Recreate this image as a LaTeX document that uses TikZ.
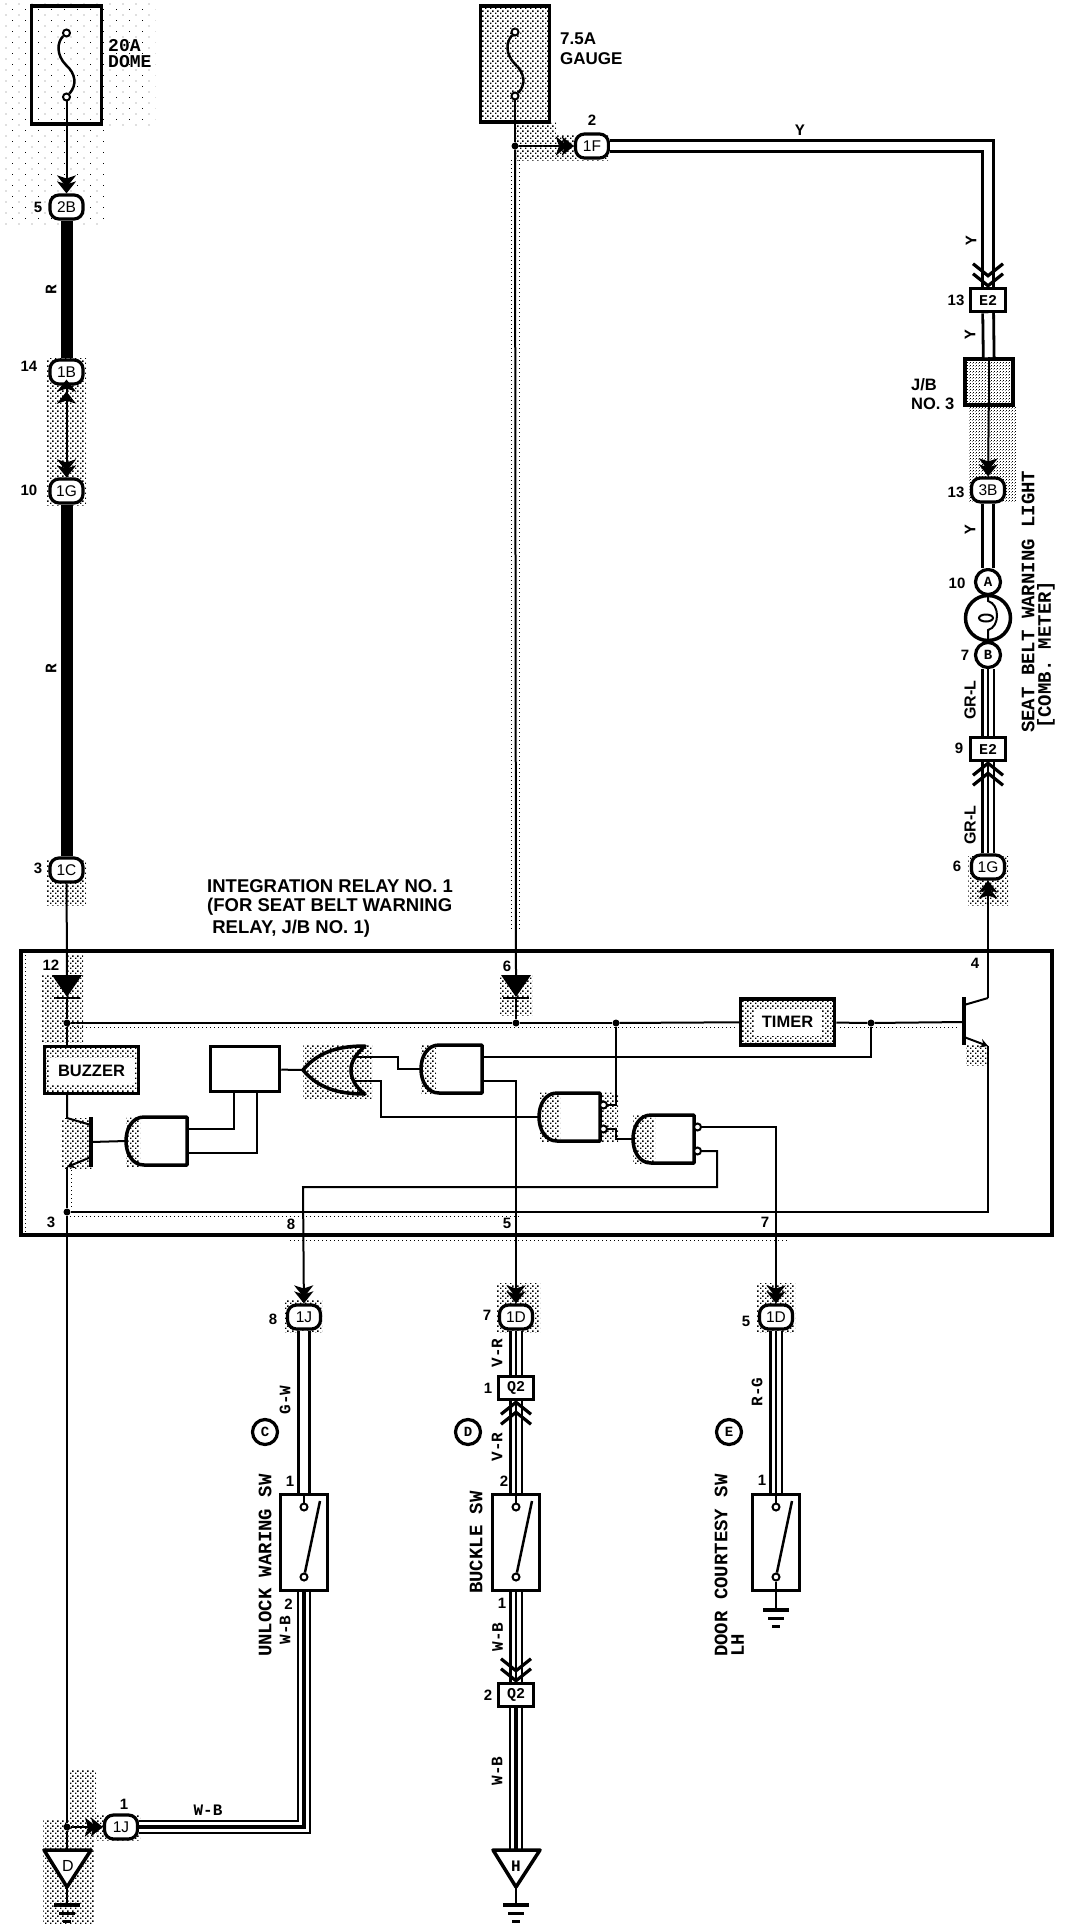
\documentclass[tikz,border=0pt]{standalone}
\usepackage{fontspec}
\setmainfont{Liberation Sans}
\newfontfamily\wiref{Liberation Mono}
\usetikzlibrary{arrows.meta,patterns,calc}
\pgfdeclarepatternformonly{stipple}{\pgfqpoint{0pt}{0pt}}{\pgfqpoint{5pt}{5pt}}{\pgfqpoint{5pt}{5pt}}{
\pgfpathrectangle{\pgfqpoint{0pt}{0pt}}{\pgfqpoint{1.7pt}{1.7pt}}
\pgfpathrectangle{\pgfqpoint{2.5pt}{2.5pt}}{\pgfqpoint{1.7pt}{1.7pt}}
\pgfusepath{fill}}
\pgfdeclarepatternformonly{finestipple}{\pgfqpoint{0pt}{0pt}}{\pgfqpoint{3pt}{3pt}}{\pgfqpoint{3pt}{3pt}}{
\pgfpathrectangle{\pgfqpoint{0pt}{0pt}}{\pgfqpoint{0.9pt}{0.9pt}}
\pgfpathrectangle{\pgfqpoint{1.5pt}{1.5pt}}{\pgfqpoint{0.9pt}{0.9pt}}
\pgfusepath{fill}}
\pgfdeclarepatternformonly{sparse}{\pgfqpoint{0pt}{0pt}}{\pgfqpoint{13pt}{11pt}}{\pgfqpoint{13pt}{11pt}}{
\pgfpathrectangle{\pgfqpoint{0pt}{0pt}}{\pgfqpoint{1pt}{1pt}}
\pgfpathrectangle{\pgfqpoint{7pt}{6pt}}{\pgfqpoint{1pt}{1pt}}
\pgfusepath{fill}}
\tikzstyle{wire}=[line width=2pt]
\tikzstyle{heavy}=[line width=12pt]
\tikzstyle{wiretwo}=[line width=2.8pt,double=white,double distance=8pt]
\tikzstyle{wirethree}=[line width=2.2pt,double=white,double distance=9pt,postaction={draw,line width=2pt,double=none}]
\tikzstyle{wirewb}=[line width=2pt,double=white,double distance=10pt,postaction={draw,line width=3.5pt,double=none}]
\tikzstyle{inarrow}=[-{Stealth[length=12pt,width=19pt,inset=3pt,sep=-6pt]Stealth[length=12pt,width=19pt,inset=3pt]}]
\tikzstyle{inback}=[{Stealth[length=12pt,width=19pt,inset=3pt,sep=-6pt]Stealth[length=12pt,width=19pt,inset=3pt]}-]
\tikzstyle{smallarrow}=[-{Stealth[length=8pt,width=9pt,inset=3pt]}]
\tikzstyle{shadearea}=[pattern=stipple]
\tikzstyle{finearea}=[pattern=finestipple]
\tikzstyle{sparsearea}=[pattern=sparse]
\tikzstyle{fringe}=[line width=1pt,dash pattern=on 1pt off 3pt]
\tikzstyle{conn}=[draw,fill=white,rectangle,rounded corners=9pt,line width=3.2pt,minimum width=33pt,minimum height=24pt,inner sep=0pt,font=\fontsize{15.5}{15.5}\selectfont]
\tikzstyle{pin}=[draw,fill=white,circle,line width=3.2pt,minimum size=25pt,inner sep=0pt,font=\wiref\bfseries\fontsize{14}{14}\selectfont]
\tikzstyle{tagbox}=[draw,fill=white,rectangle,line width=3.5pt,minimum width=35pt,minimum height=23pt,inner sep=0pt,font=\wiref\bfseries\fontsize{15}{15}\selectfont]
\tikzstyle{unitbox}=[draw,rectangle,line width=3.5pt,inner sep=0pt]
\tikzstyle{unittext}=[fill=white,inner sep=0pt,minimum height=27pt,font=\bfseries\fontsize{16.5}{16.5}\selectfont]
\tikzstyle{swbox}=[draw,rectangle,line width=3pt,minimum width=47pt,minimum height=96pt,inner sep=0pt]
\tikzstyle{term}=[draw,fill=white,circle,line width=2pt,minimum size=7pt,inner sep=0pt]
\tikzstyle{dot}=[fill,circle,minimum size=7pt,inner sep=0pt]
\tikzstyle{bubble}=[draw,fill=white,circle,line width=2pt,minimum size=7pt,inner sep=0pt]
\tikzstyle{gateline}=[line width=3.5pt,line join=round]
\tikzstyle{chevline}=[line width=3.2pt,miter limit=4]
\tikzstyle{num}=[inner sep=0pt,font=\bfseries\fontsize{15}{15}\selectfont]
\tikzstyle{plaintext}=[inner sep=0pt,anchor=west,font=\bfseries\fontsize{17}{17}\selectfont]
\tikzstyle{relaytext}=[inner sep=0pt,anchor=west,font=\bfseries\fontsize{18.5}{18.5}\selectfont]
\tikzstyle{wirelabel}=[inner sep=0pt,font=\wiref\bfseries\fontsize{16}{16}\selectfont]
\tikzstyle{partname}=[inner sep=0pt,anchor=west,rotate=90,font=\wiref\bfseries\fontsize{19}{19}\selectfont]
\newcommand{\chevron}[2]{\draw[chevline,shift={(#1)},rotate=#2] (-15,-13)--(0,-1)--(15,-13) (-15,-23)--(0,-11)--(15,-23);}
\newcommand{\diode}[3]{\begin{scope}[shift={(#2,#3)}]
\fill (-15,0)--(15,0)--(0,22)--cycle;
\draw[line width=2.5pt] (-13,23)--(13,23);
\coordinate (#1in) at (0,0);
\coordinate (#1out) at (0,23);
\end{scope}}
\newcommand{\andgate}[3]{\begin{scope}[shift={(#2,#3)}]
\draw[gateline] (61,0)--(18,0) .. controls (6,0) and (0,12) .. (0,24) .. controls (0,36) and (6,48) .. (18,48)--(61,48)--cycle;
\coordinate (#1in) at (0,24);
\coordinate (#1a) at (61,12);
\coordinate (#1b) at (61,36);
\end{scope}}
\newcommand{\nandgate}[3]{\andgate{#1}{#2}{#3}
\node[bubble] (#1p) at ($(#2,#3)+(64.5,12)$) {};
\node[bubble] (#1q) at ($(#2,#3)+(64.5,36)$) {};}
\newcommand{\earth}[1]{\draw[line width=3.5pt,shift={(#1)}] (-13,0)--(13,0) (-8,8.5)--(8,8.5) (-4,16.5)--(4,16.5);}
\begin{document}
\begin{tikzpicture}[x=1pt,y=-1pt]
\useasboundingbox (0,0) rectangle (1072,1924);
\fill[sparsearea] (0,0) rectangle (155,130);
\fill[sparsearea] (0,130) rectangle (105,225);
\fill[shadearea] (515,123) rectangle (556,135);
\fill[shadearea] (515,135) rectangle (608,160);
\fill[shadearea] (47,358) rectangle (86,505);
\fill[finearea] (968,406) rectangle (1016,502);
\fill[shadearea] (47,860) rectangle (86,905);
\fill[shadearea] (968,856) rectangle (1008,905);
\fill[shadearea] (42,975) rectangle (83,1042);
\fill[shadearea] (67,955) rectangle (83,975);
\fill[shadearea] (500,975) rectangle (532,1015);
\fill[shadearea] (62,1118) rectangle (92,1168);
\fill[shadearea] (126,1117) rectangle (140,1166);
\fill[shadearea] (303,1045) rectangle (372,1098);
\fill[shadearea] (421,1045) rectangle (436,1093);
\fill[shadearea] (539,1092) rectangle (560,1141);
\fill[shadearea] (600,1092) rectangle (618,1141);
\fill[shadearea] (633,1115) rectangle (655,1163);
\fill[shadearea] (966,1045) rectangle (988,1065);
\fill[shadearea] (285,1300) rectangle (322,1332);
\fill[shadearea] (497,1283) rectangle (540,1332);
\fill[shadearea] (757,1283) rectangle (795,1332);
\fill[shadearea] (43,1820) rectangle (94,1924);
\fill[shadearea] (70,1770) rectangle (96,1830);
\fill[shadearea] (96,1815) rectangle (140,1840);
\draw[fringe] (511,160) -- (511,930);
\draw[fringe] (519,160) -- (519,930);
\draw[fringe] (70,1027) -- (735,1027);
\draw[fringe] (840,1027) -- (960,1027);
\draw[fringe] (70,1216) -- (520,1216);
\draw[fringe] (25,955) -- (25,1232);
\draw[fringe] (71,1170) -- (71,1210);
\draw[fringe] (290,1240) -- (790,1240);

\node[unitbox,minimum width=70pt,minimum height=118pt] (dome) at (66.5,65) {};
\node[unitbox,shadearea,minimum width=69pt,minimum height=116pt] (gauge) at (515,64) {};
\node[term] (domea) at (66.5,33) {};
\node[term] (domeb) at (66.5,97) {};
\node[term] (gaugea) at (515,32) {};
\node[term] (gaugeb) at (515,96) {};
\draw[wire,line width=2.5pt] (domea) .. controls (57,42) and (56,55) .. (66,65) .. controls (76,74) and (77,85) .. (domeb);
\draw[wire,line width=2.5pt] (gaugea) .. controls (506,42) and (505,54) .. (515,64) .. controls (525,73) and (526,85) .. (gaugeb);
\node[wirelabel,anchor=west,font=\wiref\bfseries\fontsize{18}{18}\selectfont] (lbldomea) at (108,46) {20A};
\node[wirelabel,anchor=west,font=\wiref\bfseries\fontsize{18}{18}\selectfont] (lbldomeb) at (108,62) {DOME};
\node[plaintext] (lblgaugea) at (560,39) {7.5A};
\node[plaintext] (lblgaugeb) at (560,59) {GAUGE};

\node[conn] (c2b) at (66.5,207) {2B};
\node[conn] (c1b) at (66.5,372) {1B};
\node[conn] (c1gl) at (66.5,491) {1G};
\node[conn] (c1c) at (66.5,870) {1C};
\node[conn] (c1f) at (592,146) {1F};
\node[dot] (jgauge) at (515,146) {};
\draw[wire,inarrow] (domeb) -- (c2b);
\draw[heavy] (c2b) -- (c1b);
\draw[wire,inback] (c1b) -- (c1gl);
\draw[wire,inarrow] (c1b) -- (c1gl);
\draw[heavy] (c1gl) -- (c1c);
\draw[wire,inarrow] (jgauge) -- (c1f);
\node[num] (n5a) at (38,207) {5};
\node[num] (n14) at (29,366) {14};
\node[num] (n10a) at (29,490) {10};
\node[num] (n3a) at (38,868) {3};
\node[num] (n2a) at (592,120) {2};
\node[wirelabel,rotate=90] (lblra) at (51,290) {R};
\node[wirelabel,rotate=90] (lblrb) at (51,669) {R};

\node[tagbox] (e2a) at (988,300) {E2};
\node[unitbox,finearea,minimum width=48pt,minimum height=46pt] (jb) at (989,382) {};
\node[conn] (c3b) at (988,490) {3B};
\node[pin] (pina) at (988,582) {A};
\node[draw,circle,line width=3.5pt,minimum size=45pt,inner sep=0pt] (lamp) at (988,618) {};
\node[pin] (pinb) at (988,655) {B};
\node[tagbox] (e2b) at (988,749) {E2};
\node[conn] (c1gr) at (988,867) {1G};
\draw[wiretwo] (c1f.east) -| (e2a.north);
\chevron{e2a.north}{0}
\draw[wiretwo] (e2a) -- (jb);
\draw[wire] (jb.north) -- (jb.south);
\draw[wire,inarrow] (jb) -- (c3b);
\draw[wiretwo] (c3b) -- (pina);
\draw[wire] (pina.south) -- (988,601) .. controls (1000,604) and (1000,627) .. (988,630) -- (pinb.north);
\draw[wire] (986,618) ellipse (7 and 3.5);
\draw[wirethree] (pinb) -- (e2b);
\draw[wirethree] (e2b) -- (c1gr);
\chevron{e2b.south}{180}
\node[num] (n13a) at (956,300) {13};
\node[num] (n13b) at (956,492) {13};
\node[num] (n10b) at (957,583) {10};
\node[num] (n7a) at (965,655) {7};
\node[num] (n9) at (959,748) {9};
\node[num] (n6a) at (957,866) {6};
\node[num,align=left,anchor=west,font=\bfseries\fontsize{16.5}{16.5}\selectfont] (lbljb) at (911,394) {J/B\\[3pt]NO. 3};
\node[wirelabel] (lblya) at (800,130) {Y};
\node[wirelabel,rotate=90] (lblyb) at (971,241) {Y};
\node[wirelabel,rotate=90] (lblyc) at (970,335) {Y};
\node[wirelabel,rotate=90] (lblyd) at (970,530) {Y};
\node[num,rotate=90,font=\bfseries\fontsize{16}{16}\selectfont] (lblgra) at (970,700) {GR-L};
\node[num,rotate=90,font=\bfseries\fontsize{16}{16}\selectfont] (lblgrb) at (970,825) {GR-L};
\node[partname] (lblseat) at (1028,733) {SEAT BELT WARNING LIGHT};
\node[partname] (lblcomb) at (1046,729) {[COMB. METER]};

\node[relaytext] (lblrelaya) at (207,886) {INTEGRATION RELAY NO. 1};
\node[relaytext] (lblrelayb) at (207,907) {(FOR SEAT BELT WARNING};
\node[relaytext] (lblrelayc) at (207,929) {\ RELAY, J/B NO. 1)};
\node[draw,line width=3.5pt,minimum width=1031pt,minimum height=284pt,inner sep=0pt] (relay) at (536.5,1093) {};
\diode{dtwelve}{67}{975}
\diode{dsix}{516}{975}
\node[dot] (jtwelve) at (67,1023) {};
\node[dot] (jsix) at (516,1023) {};
\node[dot] (jand) at (616,1023) {};
\node[dot] (jtimer) at (871,1023) {};
\node[dot] (jthree) at (67,1212) {};
\node[unitbox,shadearea,minimum width=94pt,minimum height=47pt] (buzzer) at (91.5,1070) {};
\node[unittext,minimum width=86pt] (buzzertext) at (91.5,1071) {BUZZER};
\node[unitbox,fill=white,minimum width=69pt,minimum height=45pt] (blank) at (245,1069) {};
\node[unitbox,shadearea,minimum width=94pt,minimum height=46pt] (timer) at (787.5,1022) {};
\node[unittext,minimum width=68pt] (timertext) at (787.5,1022) {TIMER};
\andgate{andone}{126}{1117}
\andgate{andtwo}{421}{1045}
\nandgate{andthree}{539}{1093}
\nandgate{andfour}{633}{1115}
\draw[gateline] (303,1070) .. controls (318,1052) and (338,1046) .. (365,1046) .. controls (355,1055) and (351,1062) .. (351,1070) .. controls (351,1078) and (355,1087) .. (365,1094) .. controls (338,1094) and (318,1088) .. cycle;
\coordinate (orout) at (303,1070);
\coordinate (ora) at (354,1057);
\coordinate (orb) at (354,1081);
\coordinate (bup) at (67,1095);
\coordinate (bdown) at (67,1118);
\coordinate (qonec) at (91,1125);
\coordinate (qonee) at (91,1157);
\coordinate (qonetop) at (91,1117);
\coordinate (qonebot) at (91,1167);
\coordinate (qoneb) at (91,1142);
\coordinate (qoneout) at (67,1167);
\coordinate (blanka) at (234,1091);
\coordinate (blankb) at (257,1091);
\coordinate (bendone) at (398,1063);
\coordinate (bendtwo) at (381,1100);
\coordinate (bendthree) at (616,1133);
\coordinate (bendfour) at (717,1187);
\coordinate (bendfive) at (303,1187);
\coordinate (qtwotop) at (964,997);
\coordinate (qtwobot) at (964,1045);
\coordinate (qtwob) at (964,1022);
\coordinate (qtwoc) at (964,1005);
\coordinate (qtwoe) at (964,1037);
\coordinate (qtwocout) at (988,998);
\coordinate (qtwoeout) at (988,1046);

\draw[wire] (gaugeb) -- (jgauge);
\draw[wire] (jgauge) -- (dsixin);
\draw[wire] (dsixout) -- (jsix);
\draw[wire] (c1c) -- (dtwelvein);
\draw[wire] (dtwelveout) -- (jtwelve);
\draw[wire] (jtwelve) -- (jsix);
\draw[wire] (jsix) -- (jand);
\draw[wire] (jand) -- (timer);
\draw[wire] (timer) -- (jtimer);
\draw[wire] (jtimer) -- (qtwob);
\draw[wire] (jtwelve) -- (buzzer.north -| jtwelve);
\draw[wire] (bup) -- (bdown) -- (qonec);
\draw[line width=4pt] (qonetop) -- (qonebot);
\draw[wire] (qoneb) -- (andonein);
\draw[wire,smallarrow] (qonee) -- (qoneout);
\draw[wire] (qoneout) -- (jthree);
\draw[wire] (andonea) -| (blanka);
\draw[wire] (andoneb) -| (blankb);
\draw[wire] (blank) -- (orout);
\draw[wire] (ora) -| (bendone) |- (andtwoin);
\draw[wire] (orb) -| (bendtwo) |- (andthreein);
\draw[wire] (andtwoa) -| (jtimer);
\draw[wire] (jand) |- (andthreep);
\draw[wire] (andthreeq) -| (bendthree) |- (andfourin);
\draw[line width=4pt] (qtwotop) -- (qtwobot);
\draw[wire] (qtwoc) -- (qtwocout);
\draw[wire,smallarrow] (qtwoe) -- (qtwoeout);
\draw[wire,inarrow] (qtwocout) -- (c1gr);
\draw[wire] (qtwoeout) |- (jthree);
\node[num] (n12) at (51,965) {12};
\node[num] (n6b) at (507,966) {6};
\node[num] (n3b) at (51,1222) {3};
\node[num] (n8a) at (291,1224) {8};
\node[num] (n5b) at (507,1223) {5};
\node[num] (n7b) at (765,1222) {7};
\node[num] (n4) at (975,963) {4};

\node[conn] (c1j) at (304,1317) {1J};
\node[conn] (c1dv) at (516,1317) {1D};
\node[conn] (c1de) at (776,1317) {1D};
\node[tagbox] (q2a) at (516,1388) {Q2};
\node[tagbox] (q2b) at (516,1695) {Q2};
\node[conn] (c1jb) at (121,1827) {1J};
\node[dot] (jd) at (67,1827) {};
\node[swbox] (swc) at (304,1542) {};
\node[swbox] (swd) at (516,1542) {};
\node[swbox] (swe) at (776,1542) {};
\node[term] (swca) at (304,1507) {};
\node[term] (swcb) at (304,1577) {};
\node[term] (swda) at (516,1507) {};
\node[term] (swdb) at (516,1577) {};
\node[term] (swea) at (776,1507) {};
\node[term] (sweb) at (776,1577) {};
\coordinate (swctip) at (320,1501);
\coordinate (swdtip) at (532,1501);
\coordinate (swetip) at (792,1501);
\draw[line width=2.5pt] (swcb) -- (swctip);
\draw[line width=2.5pt] (swdb) -- (swdtip);
\draw[line width=2.5pt] (sweb) -- (swetip);
\draw[wire] (swc.north) -- (swca);
\draw[wire] (swd.north) -- (swda);
\draw[wire] (swe.north) -- (swea);
\draw[wire,inarrow] (andtwob) -| (c1dv);
\draw[wire,inarrow] (andfourp) -| (c1de);
\draw[wire,inarrow] (andfourq) -| (bendfour) -- (bendfive) -- (c1j);
\draw[wire,inarrow] (jd) -- (c1jb);
\draw[wire] (jthree) -- (jd);
\draw[wiretwo] (c1j) -- (swc);
\draw[wirethree] (c1dv) -- (q2a);
\draw[wirethree] (q2a) -- (swd);
\chevron{q2a.south}{180}
\draw[wirethree] (swd) -- (q2b);
\chevron{q2b.north}{0}
\draw[wirethree] (c1de) -- (swe);
\draw[wirewb] (swc.south) |- (c1jb.east);

\coordinate (tritopd) at (67,1850);
\coordinate (tritoph) at (516,1850);
\coordinate (gndd) at (67,1905);
\coordinate (gndh) at (516,1905);
\coordinate (gnde) at (776,1610);
\draw[wire] (jd) -- (tritopd);
\draw[wirewb] (q2b) -- (tritoph);
\draw[gateline,fill=white] (44,1850) -- (91,1850) -- (67,1887) -- cycle;
\draw[gateline,fill=white] (493,1850) -- (540,1850) -- (516,1887) -- cycle;
\node[num,font=\fontsize{16}{16}\selectfont] (lbld) at (68,1866) {D};
\node[num,font=\wiref\bfseries\fontsize{16}{16}\selectfont] (lblh) at (516,1866) {H};
\draw[wire] (67,1887) -- (gndd);
\draw[wire] (516,1887) -- (gndh);
\draw[wire] (sweb) -- (gnde);
\earth{gndd}
\earth{gndh}
\earth{gnde}

\node[pin] (tagc) at (265,1432) {C};
\node[pin] (tagd) at (468,1432) {D};
\node[pin] (tage) at (729,1432) {E};
\node[num] (n8b) at (273,1319) {8};
\node[num] (n7c) at (487,1315) {7};
\node[num] (n5c) at (746,1321) {5};
\node[num] (n1a) at (290,1481) {1};
\node[num] (n2b) at (504,1481) {2};
\node[num] (n1b) at (762,1480) {1};
\node[num] (n2c) at (288.5,1604) {2};
\node[num] (n1c) at (502,1603) {1};
\node[num] (n1d) at (488,1388) {1};
\node[num] (n2d) at (488,1695) {2};
\node[num] (n1e) at (124,1804) {1};
\node[wirelabel,rotate=90] (lblgw) at (285,1400) {G-W};
\node[wirelabel,rotate=90] (lblvra) at (497,1353) {V-R};
\node[wirelabel,rotate=90] (lblvrb) at (497,1447) {V-R};
\node[wirelabel,rotate=90] (lblrg) at (757,1392) {R-G};
\node[wirelabel,rotate=90] (lblwba) at (285,1630) {W-B};
\node[wirelabel,rotate=90] (lblwbb) at (497.5,1637) {W-B};
\node[wirelabel,rotate=90] (lblwbc) at (497,1771) {W-B};
\node[wirelabel] (lblwbd) at (208,1810) {W-B};
\node[partname] (lblunlock) at (265,1657) {UNLOCK WARING SW};
\node[partname] (lblbuckle) at (476,1594) {BUCKLE SW};
\node[partname] (lbldoor) at (721,1657) {DOOR COURTESY SW};
\node[partname] (lbllh) at (737.5,1657) {LH};
\end{tikzpicture}
\end{document}
